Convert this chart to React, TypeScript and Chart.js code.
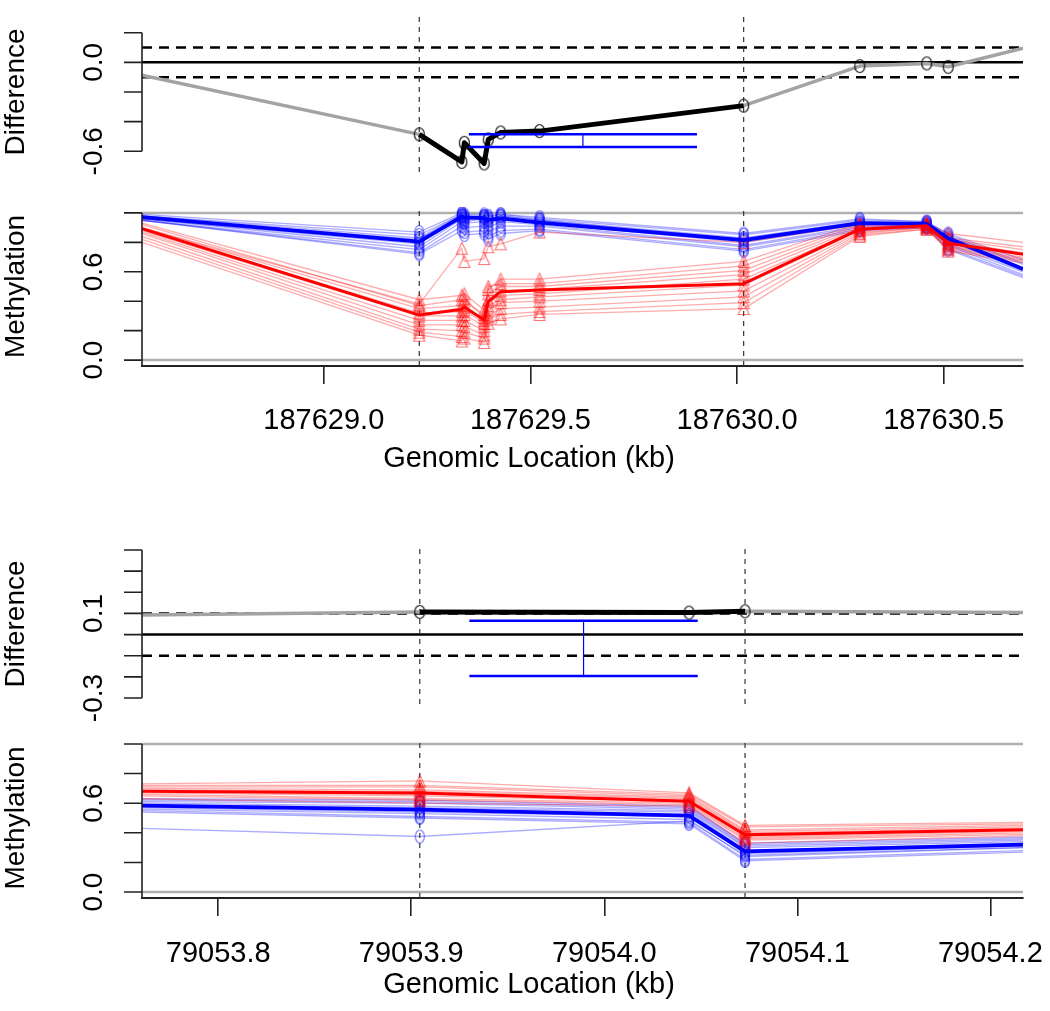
import React, { useEffect, useRef } from 'react';
import { Chart, registerables } from 'chart.js';

Chart.register(...registerables);

const FONT = "'Liberation Sans', Arial, Helvetica, sans-serif";
Chart.defaults.font.family = FONT;

// ---------------- Top region (kb) ----------------
const topXLimits = [187628.56, 187630.692];
const topXTicks = [187629.0, 187629.5, 187630.0, 187630.5];
const topX = [187628.56, 187629.231, 187629.334, 187629.340, 187629.388, 187629.398, 187629.428, 187629.522, 187630.016, 187630.297, 187630.459, 187630.511, 187630.692];
const topRegion = [187629.231, 187630.016];
const topDiff = [-0.086, -0.486, -0.672, -0.543, -0.682, -0.520, -0.473, -0.464, -0.292, -0.025, -0.007, -0.030, 0.095];
const topDiffLimits = [-0.74, 0.34];
const topDiffTicks = [-0.6, -0.4, -0.2, 0.0, 0.2];
const topDiffLabels = ['-0.6', '', '', '0.0', ''];
const topBarX = [187629.351, 187629.903];
const topBarY = [-0.572, -0.485];

const topBlueMean = [0.971, 0.805, 0.975, 0.970, 0.964, 0.952, 0.962, 0.934, 0.815, 0.930, 0.925, 0.828, 0.619];
const topRedMean = [0.892, 0.306, 0.345, 0.360, 0.272, 0.397, 0.465, 0.476, 0.519, 0.889, 0.912, 0.794, 0.719];

const topRedSamples = [
  [0.93, 0.41, 0.44, 0.45, 0.34, 0.48, 0.55, 0.55, 0.67, 0.93, 0.93, 0.86, 0.80],
  [0.92, 0.37, 0.41, 0.40, 0.31, 0.50, 0.52, 0.52, 0.64, 0.92, 0.93, 0.83, 0.77],
  [0.90, 0.35, 0.37, 0.42, 0.29, 0.45, 0.50, 0.50, 0.61, 0.91, 0.92, 0.82, 0.75],
  [0.89, 0.32, 0.33, 0.36, 0.27, 0.41, 0.47, 0.48, 0.58, 0.90, 0.92, 0.80, 0.73],
  [0.88, 0.30, 0.30, 0.34, 0.25, 0.40, 0.44, 0.45, 0.55, 0.89, 0.91, 0.79, 0.72],
  [0.87, 0.27, 0.27, 0.31, 0.23, 0.37, 0.41, 0.43, 0.51, 0.88, 0.91, 0.78, 0.70],
  [0.86, 0.24, 0.24, 0.27, 0.20, 0.34, 0.39, 0.40, 0.47, 0.87, 0.90, 0.77, 0.69],
  [0.84, 0.21, 0.20, 0.23, 0.17, 0.30, 0.35, 0.36, 0.43, 0.86, 0.90, 0.76, 0.68],
  [0.82, 0.19, 0.16, 0.19, 0.15, 0.28, 0.31, 0.33, 0.39, 0.85, 0.89, 0.75, 0.67],
  [0.80, 0.17, 0.13, 0.15, 0.12, 0.25, 0.28, 0.31, 0.35, 0.84, 0.89, 0.74, 0.66],
  [0.90, 0.38, 0.76, 0.67, 0.69, 0.77, 0.79, 0.87, 0.80, 0.92, 0.92, 0.82, 0.72],
];

const topBlueSamples = [
  [0.99, 0.87, 1.00, 0.99, 0.99, 0.98, 0.99, 0.97, 0.86, 0.96, 0.94, 0.86, 0.68],
  [0.98, 0.85, 0.99, 0.98, 0.98, 0.97, 0.99, 0.96, 0.85, 0.95, 0.94, 0.85, 0.66],
  [0.98, 0.83, 0.99, 0.97, 0.98, 0.96, 0.98, 0.95, 0.83, 0.94, 0.93, 0.84, 0.65],
  [0.97, 0.82, 0.98, 0.96, 0.97, 0.95, 0.98, 0.95, 0.82, 0.93, 0.93, 0.83, 0.63],
  [0.97, 0.80, 0.98, 0.95, 0.97, 0.94, 0.97, 0.94, 0.81, 0.93, 0.92, 0.82, 0.62],
  [0.96, 0.79, 0.97, 0.94, 0.96, 0.92, 0.96, 0.93, 0.80, 0.92, 0.92, 0.81, 0.61],
  [0.96, 0.77, 0.96, 0.93, 0.94, 0.90, 0.94, 0.92, 0.78, 0.91, 0.91, 0.79, 0.60],
  [0.95, 0.75, 0.94, 0.90, 0.91, 0.87, 0.91, 0.91, 0.77, 0.90, 0.91, 0.78, 0.58],
  [0.95, 0.73, 0.91, 0.87, 0.88, 0.84, 0.88, 0.89, 0.75, 0.89, 0.90, 0.76, 0.57],
  [0.95, 0.72, 0.88, 0.85, 0.86, 0.82, 0.86, 0.88, 0.74, 0.88, 0.90, 0.75, 0.56],
];

// ---------------- Bottom region (kb) ----------------
const botXLimits = [79053.7605, 79054.2169];
const botXTicks = [79053.8, 79053.9, 79054.0, 79054.1, 79054.2];
const botX = [79053.7605, 79053.9044, 79054.0439, 79054.0729, 79054.2169];
const botRegion = [79053.9044, 79054.0729];
const botDiff = [0.092, 0.107, 0.104, 0.110, 0.104];
const botDiffLimits = [-0.328, 0.428];
const botDiffTicks = [-0.3, -0.2, -0.1, 0.0, 0.1, 0.2, 0.3, 0.4];
const botDiffLabels = ['-0.3', '', '', '', '0.1', '', '', ''];
const botBarX = [79053.9301, 79054.0484];
const botBarY = [-0.196, 0.065];

const botRedMean = [0.680, 0.669, 0.613, 0.387, 0.421];
const botBlueMean = [0.583, 0.556, 0.516, 0.275, 0.320];

const botRedSamples = [
  [0.73, 0.75, 0.67, 0.45, 0.47],
  [0.72, 0.72, 0.66, 0.44, 0.46],
  [0.71, 0.71, 0.65, 0.42, 0.45],
  [0.70, 0.69, 0.64, 0.41, 0.44],
  [0.69, 0.68, 0.63, 0.40, 0.43],
  [0.68, 0.66, 0.62, 0.38, 0.42],
  [0.67, 0.65, 0.61, 0.37, 0.41],
  [0.66, 0.63, 0.60, 0.36, 0.40],
  [0.65, 0.62, 0.59, 0.35, 0.39],
  [0.63, 0.60, 0.58, 0.33, 0.38],
];

const botBlueSamples = [
  [0.63, 0.62, 0.58, 0.33, 0.37],
  [0.62, 0.61, 0.57, 0.32, 0.36],
  [0.61, 0.60, 0.56, 0.31, 0.35],
  [0.60, 0.58, 0.55, 0.30, 0.34],
  [0.59, 0.57, 0.54, 0.28, 0.33],
  [0.58, 0.55, 0.52, 0.27, 0.32],
  [0.57, 0.54, 0.51, 0.26, 0.31],
  [0.56, 0.53, 0.49, 0.24, 0.30],
  [0.55, 0.51, 0.47, 0.22, 0.28],
  [0.54, 0.50, 0.46, 0.21, 0.27],
  [0.43, 0.375, 0.48, 0.25, 0.30],
];

const methLimits = [-0.04, 1.04];
const methTicks = [0.0, 0.2, 0.4, 0.6, 0.8, 1.0];
const methLabels = ['0.0', '', '', '0.6', '', ''];

const xTitle = 'Genomic Location (kb)';

// ---------------- helpers ----------------
type P = { x: number; y: number };
const pts = (xs: number[], ys: number[]): P[] => xs.map((x, i) => ({ x, y: ys[i] }));

function makeEllipse(w: number, h: number, color: string, lw: number) {
  const c = document.createElement('canvas');
  c.width = Math.ceil(w + lw * 2 + 2);
  c.height = Math.ceil(h + lw * 2 + 2);
  const g = c.getContext('2d')!;
  g.strokeStyle = color;
  g.lineWidth = lw;
  g.beginPath();
  g.ellipse(c.width / 2, c.height / 2, w / 2, h / 2, 0, 0, Math.PI * 2);
  g.stroke();
  return c;
}

function makeTriangle(w: number, h: number, color: string, lw: number) {
  const c = document.createElement('canvas');
  c.width = Math.ceil(w + lw * 2 + 2);
  c.height = Math.ceil(h + lw * 2 + 2);
  const g = c.getContext('2d')!;
  g.strokeStyle = color;
  g.lineWidth = lw;
  const cx = c.width / 2, cy = c.height / 2;
  g.beginPath();
  g.moveTo(cx, cy - h / 2);
  g.lineTo(cx + w / 2, cy + h / 2);
  g.lineTo(cx - w / 2, cy + h / 2);
  g.closePath();
  g.stroke();
  return c;
}

function line(data: P[], color: string, width: number, extra: any = {}) {
  return {
    type: 'line',
    data,
    borderColor: color,
    backgroundColor: color,
    borderWidth: width,
    pointRadius: 0,
    fill: false,
    tension: 0,
    borderCapStyle: 'butt',
    borderJoinStyle: 'round',
    ...extra,
  };
}

function withOrder(ds: any[]) {
  // first element painted first (bottom); Chart.js paints high "order" first
  return ds.map((d, i) => ({ ...d, order: ds.length - i }));
}

type AxisSpec = { ticks: number[]; labels: string[]; title: string; toBottom: boolean; xTitle?: boolean };

function rAxisPlugin(spec: AxisSpec) {
  return {
    id: 'rAxis',
    afterDraw(chart: any) {
      const { ctx, chartArea } = chart;
      const y = chart.scales.y;
      const x0 = chartArea.left;
      const pix = spec.ticks.map((v) => y.getPixelForValue(v));
      const yTop = Math.min(...pix);
      const yBot = spec.toBottom ? chartArea.bottom : Math.max(...pix);
      ctx.save();
      ctx.strokeStyle = '#222';
      ctx.lineWidth = 1.6;
      ctx.beginPath();
      ctx.moveTo(x0, yTop);
      ctx.lineTo(x0, yBot);
      pix.forEach((p) => {
        ctx.moveTo(x0 - 18, p);
        ctx.lineTo(x0, p);
      });
      ctx.stroke();
      ctx.fillStyle = '#000';
      ctx.font = `28px ${FONT}`;
      ctx.textAlign = 'center';
      ctx.textBaseline = 'alphabetic';
      spec.labels.forEach((lab, i) => {
        if (!lab) return;
        ctx.save();
        ctx.translate(x0 - 40, pix[i]);
        ctx.rotate(-Math.PI / 2);
        ctx.fillText(lab, 0, 0);
        ctx.restore();
      });
      ctx.save();
      ctx.translate(23.5, (chartArea.top + chartArea.bottom) / 2);
      ctx.rotate(-Math.PI / 2);
      ctx.fillText(spec.title, 0, 0);
      ctx.restore();
      if (spec.xTitle) {
        ctx.font = `29px ${FONT}`;
        ctx.textBaseline = 'middle';
        ctx.fillText(xTitle, 529, chart.height - 26);
      }
      ctx.restore();
    },
  };
}

const baseOptions = {
  animation: false,
  responsive: false,
  maintainAspectRatio: false,
  devicePixelRatio: 1,
  events: [],
  plugins: { legend: { display: false }, tooltip: { enabled: false }, title: { display: false } },
};

type DiffParams = {
  x: number[]; diff: number[]; region: number[]; xLim: number[]; yLim: number[];
  ticks: number[]; labels: string[]; barX: number[]; barY: number[];
  padTop: number; padBottom: number;
};

function diffConfig(p: DiffParams): any {
  const circle = makeEllipse(10, 13, 'rgba(0,0,0,0.9)', 1.2);
  const ds: any[] = [];
  ds.push(line([{ x: p.xLim[0], y: 0 }, { x: p.xLim[1], y: 0 }], '#000', 2.5));
  ds.push(line([{ x: p.xLim[0], y: 0.1 }, { x: p.xLim[1], y: 0.1 }], '#000', 2.5, { borderDash: [10, 7] }));
  ds.push(line([{ x: p.xLim[0], y: -0.1 }, { x: p.xLim[1], y: -0.1 }], '#000', 2.5, { borderDash: [10, 7] }));
  p.region.forEach((b) =>
    ds.push(line([{ x: b, y: p.yLim[0] }, { x: b, y: p.yLim[1] }], '#333', 1.2, { borderDash: [5, 5] }))
  );
  const all = pts(p.x, p.diff);
  ds.push(line(all, '#a3a3a3', 3.5));
  ds.push(line(all.filter((q) => q.x >= p.region[0] && q.x <= p.region[1]), '#000', 5));
  ds.push({
    type: 'line', data: all.slice(1, -1), showLine: false, pointStyle: circle, pointRadius: 5,
    borderColor: '#000', backgroundColor: 'transparent',
  });
  const cx = (p.barX[0] + p.barX[1]) / 2;
  ds.push(line([{ x: p.barX[0], y: p.barY[0] }, { x: p.barX[1], y: p.barY[0] }], '#0000ff', 2.5));
  ds.push(line([{ x: p.barX[0], y: p.barY[1] }, { x: p.barX[1], y: p.barY[1] }], '#0000ff', 2.5));
  ds.push(line([{ x: cx, y: p.barY[0] }, { x: cx, y: p.barY[1] }], '#0000ff', 1.2));
  return {
    type: 'line',
    data: { datasets: withOrder(ds) },
    options: {
      ...baseOptions,
      layout: { padding: { left: 142, right: 27, top: p.padTop, bottom: p.padBottom } },
      scales: {
        x: { type: 'linear', min: p.xLim[0], max: p.xLim[1], display: false },
        y: { type: 'linear', min: p.yLim[0], max: p.yLim[1], display: false },
      },
    },
    plugins: [rAxisPlugin({ ticks: p.ticks, labels: p.labels, title: 'Difference', toBottom: false })],
  };
}

type MethParams = {
  x: number[]; redMean: number[]; blueMean: number[]; redSamples: number[][]; blueSamples: number[][];
  region: number[]; xLim: number[]; xTicks: number[]; padTop: number; scaleHeight: number;
  tickPad: number;
};

function methConfig(p: MethParams): any {
  const circ = makeEllipse(9, 13, 'rgba(0,0,255,0.55)', 1.1);
  const tri = makeTriangle(11, 12, 'rgba(255,0,0,0.55)', 1.1);
  const n = p.x.length;
  const hideEdge = (c: any) => (c.dataIndex === 0 || c.dataIndex === n - 1 ? 0 : 5);
  const ds: any[] = [];
  ds.push(line([{ x: p.xLim[0], y: 0 }, { x: p.xLim[1], y: 0 }], '#b0b0b0', 2.5));
  ds.push(line([{ x: p.xLim[0], y: 1 }, { x: p.xLim[1], y: 1 }], '#b0b0b0', 2.5));
  p.region.forEach((b) =>
    ds.push(line([{ x: b, y: methLimits[0] }, { x: b, y: methLimits[1] }], '#333', 1.2, { borderDash: [5, 5] }))
  );
  p.blueSamples.forEach((s) =>
    ds.push(line(pts(p.x, s), 'rgba(0,0,255,0.33)', 1.3, { pointStyle: circ, pointRadius: hideEdge }))
  );
  p.redSamples.forEach((s) =>
    ds.push(line(pts(p.x, s), 'rgba(255,0,0,0.33)', 1.3, { pointStyle: tri, pointRadius: hideEdge }))
  );
  ds.push(line(pts(p.x, p.blueMean), '#0000ff', 3.8));
  ds.push(line(pts(p.x, p.redMean), '#ff0000', 3));
  return {
    type: 'line',
    data: { datasets: withOrder(ds) },
    options: {
      ...baseOptions,
      layout: { padding: { left: 142, right: 27, top: p.padTop, bottom: 0 } },
      scales: {
        x: {
          type: 'linear', min: p.xLim[0], max: p.xLim[1], position: 'bottom',
          afterBuildTicks: (s: any) => { s.ticks = p.xTicks.map((v) => ({ value: v })); },
          afterFit: (s: any) => { s.height = p.scaleHeight; s.paddingLeft = 0; s.paddingRight = 0; },
          grid: { drawOnChartArea: false, drawTicks: true, tickLength: 18, color: '#222', lineWidth: 1.6 },
          border: { display: true, color: '#222', width: 2 },
          ticks: {
            autoSkip: false, maxRotation: 0, minRotation: 0, padding: p.tickPad, color: '#000',
            font: { size: 29, family: FONT }, callback: (v: any) => Number(v).toFixed(1),
          },
          title: { display: false },
        },
        y: { type: 'linear', min: methLimits[0], max: methLimits[1], display: false },
      },
    },
    plugins: [rAxisPlugin({ ticks: methTicks, labels: methLabels, title: 'Methylation', toBottom: true, xTitle: true })],
  };
}

export default function App() {
  const c1 = useRef<HTMLCanvasElement>(null);
  const c2 = useRef<HTMLCanvasElement>(null);
  const c3 = useRef<HTMLCanvasElement>(null);
  const c4 = useRef<HTMLCanvasElement>(null);

  useEffect(() => {
    const charts = [
      new Chart(c1.current!, diffConfig({
        x: topX, diff: topDiff, region: topRegion, xLim: topXLimits, yLim: topDiffLimits,
        ticks: topDiffTicks, labels: topDiffLabels, barX: topBarX, barY: topBarY, padTop: 12, padBottom: 23,
      })),
      new Chart(c2.current!, methConfig({
        x: topX, redMean: topRedMean, blueMean: topBlueMean, redSamples: topRedSamples, blueSamples: topBlueSamples,
        region: topRegion, xLim: topXLimits, xTicks: topXTicks, padTop: 12, scaleHeight: 119, tickPad: 20,
      })),
      new Chart(c3.current!, diffConfig({
        x: botX, diff: botDiff, region: botRegion, xLim: botXLimits, yLim: botDiffLimits,
        ticks: botDiffTicks, labels: botDiffLabels, barX: botBarX, barY: botBarY, padTop: 59, padBottom: 21,
      })),
      new Chart(c4.current!, methConfig({
        x: botX, redMean: botRedMean, blueMean: botBlueMean, redSamples: botRedSamples, blueSamples: botBlueSamples,
        region: botRegion, xLim: botXLimits, xTicks: botXTicks, padTop: 13, scaleHeight: 113, tickPad: 21,
      })),
    ];
    return () => charts.forEach((c) => c.destroy());
  }, []);

  const cs = (top: number): React.CSSProperties => ({ position: 'absolute', left: 0, top, display: 'block' });

  return (
    <div style={{ position: 'absolute', left: 0, top: 0, width: 1050, height: 1011, background: '#fff', overflow: 'hidden' }}>
      <canvas ref={c1} width={1050} height={195} style={cs(0)} />
      <canvas ref={c2} width={1050} height={290} style={cs(195)} />
      <canvas ref={c3} width={1050} height={240} style={cs(485)} />
      <canvas ref={c4} width={1050} height={286} style={cs(725)} />
    </div>
  );
}
